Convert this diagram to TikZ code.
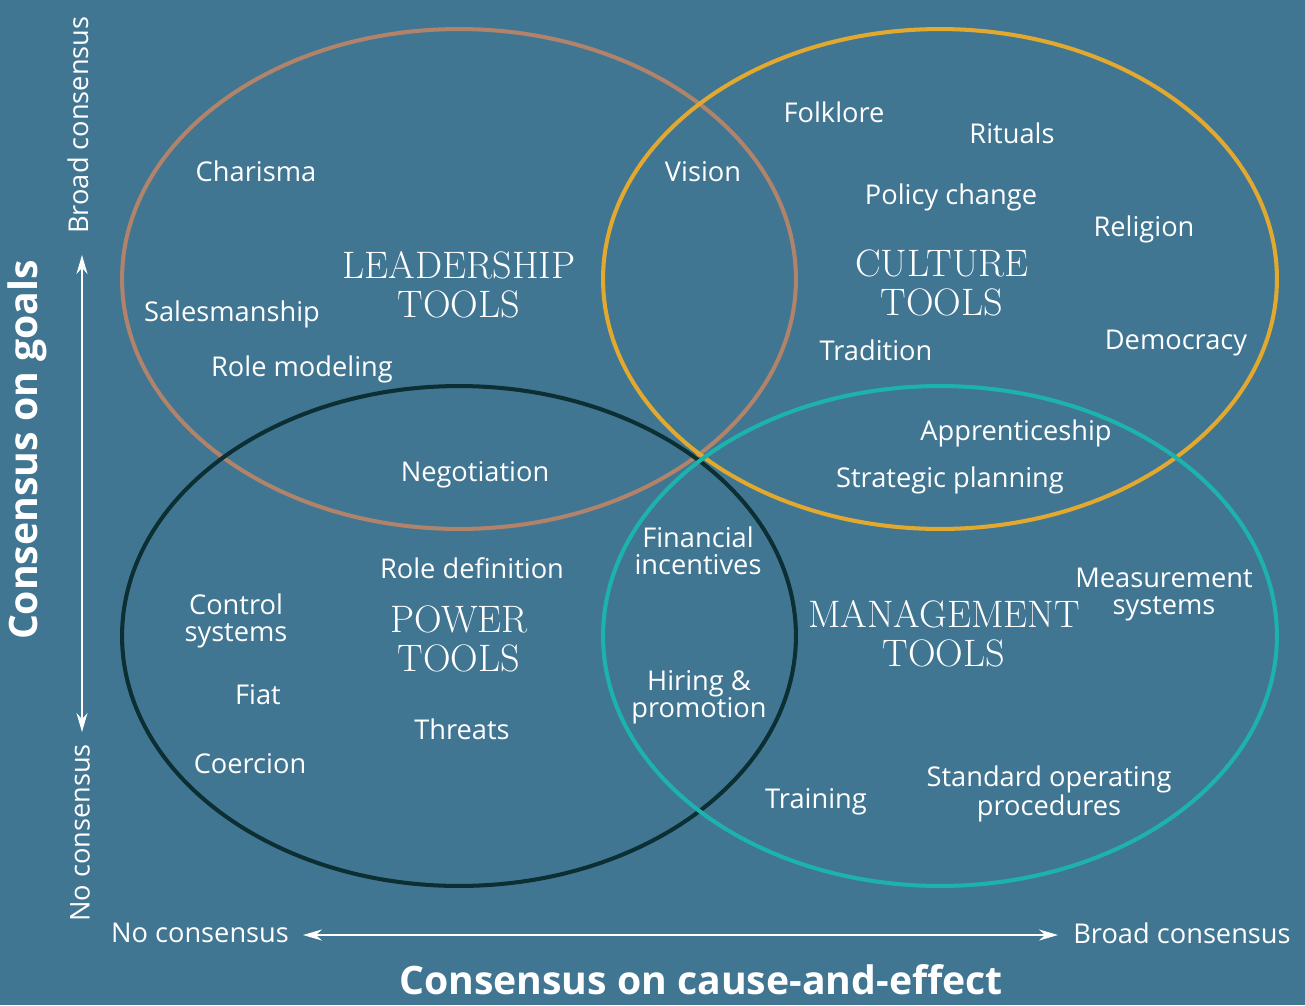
\documentclass[tikz,border=0pt]{standalone}
\usepackage{fontspec}
\setsansfont{Open Sans}
\usepackage{xcolor}
\usepackage{tikz}
\usetikzlibrary{arrows.meta}
\definecolor{bgblue}{HTML}{417693}
\definecolor{leadclr}{HTML}{B0836A}
\definecolor{cultclr}{HTML}{E2A92E}
\definecolor{powerclr}{HTML}{0B2F33}
\definecolor{mgmtclr}{HTML}{1DB3AD}

\begin{document}
\begin{tikzpicture}[
        x=0.02cm, y=-0.02cm,
        every node/.style={
            text=white,
            align=center,
            inner sep=0pt,
            font=\sffamily\fontsize{15.5}{15.4}\selectfont
        },
        ring/.style={
            line width=2.3pt
        },
        title/.style={
            font=\rmfamily\fontsize{21.8}{22}\selectfont
        },
        axis/.style={
            <->,
            >={Stealth[length=0.38cm,width=0.22cm]},
            line width=1.1pt,
            color=white
        },
        axistitle/.style={
            font=\sffamily\bfseries\fontsize{22.3}{24}\selectfont
        }
    ]
        \useasboundingbox[fill=bgblue] (0,0) rectangle (1305,1005);

        % the four circles
        \draw[ring, leadclr] (459,279) ellipse [x radius=6.74cm, y radius=5cm];
        \draw[ring, cultclr] (940,279) ellipse [x radius=6.74cm, y radius=5cm];
        \draw[ring, powerclr] (459,636) ellipse [x radius=6.74cm, y radius=5cm];
        \draw[ring, mgmtclr] (940,636) ellipse [x radius=6.74cm, y radius=5cm];

        % headings
        \node[title] (lead) at (459,285) {LEADERSHIP\\TOOLS};
        \node[title] (cult) at (942,283) {CULTURE\\TOOLS};
        \node[title] (power) at (459,639) {POWER\\TOOLS};
        \node[title] (mgmt) at (944,634) {MANAGEMENT\\TOOLS};

        % tools
        \node (charisma) at (256,171) {Charisma};
        \node (sales) at (232,314) {Salesmanship};
        \node (rolemod) at (302,369) {Role modeling};
        \node (vision) at (703,172) {Vision};
        \node (folklore) at (834,112) {Folklore};
        \node (rituals) at (1012,133) {Rituals};
        \node (policy) at (951,197) {Policy change};
        \node (religion) at (1144,229) {Religion};
        \node (tradition) at (876,350) {Tradition};
        \node (democracy) at (1176,343) {Democracy};
        \node (appr) at (1016,433) {Apprenticeship};
        \node (strat) at (950,480) {Strategic planning};
        \node (nego) at (475,475) {Negotiation};
        \node (fin) at (698,551) {Financial\\incentives};
        \node (roledef) at (472,568) {Role definition};
        \node (control) at (236,621) {Control\\systems};
        \node (fiat) at (258,695) {Fiat};
        \node (threats) at (462,729) {Threats};
        \node (coercion) at (250,764) {Coercion};
        \node (hiring) at (699,697) {Hiring \&\\promotion};
        \node (measure) at (1164,595) {Measurement\\systems};
        \node (training) at (816,802) {Training};
        \node (sop) at (1049,794) {Standard operating\\procedures};

        % axes
        \coordinate (ytop) at (82,255);
        \coordinate (ybot) at (82,732);
        \coordinate (xleft) at (303,935);
        \coordinate (xright) at (1058,935);
        \draw[axis] (ybot) -- (ytop);
        \draw[axis] (xleft) -- (xright);

        \node[rotate=90] (ybroad) at (78,125) {Broad consensus};
        \node[rotate=90] (yno) at (80,833) {No consensus};
        \node (xno) at (200,933) {No consensus};
        \node (xbroad) at (1182,933) {Broad consensus};
        \node[axistitle, rotate=90] (goals) at (27,450) {Consensus on goals};
        \node[axistitle, anchor=base] (cause) at (701,994) {Consensus on cause-and-effect};
    \end{tikzpicture}
\end{document}
